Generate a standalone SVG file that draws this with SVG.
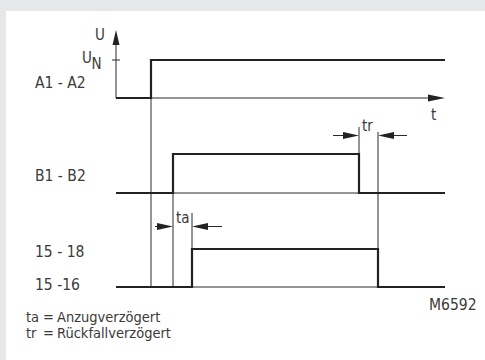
<svg xmlns="http://www.w3.org/2000/svg" width="485" height="360" viewBox="0 0 485 360">
<defs>
<style>
text{font-family:"DejaVu Sans Condensed","Liberation Sans Narrow","Liberation Sans",sans-serif;font-size:15.5px;fill:#3a3a3a}
.sm{font-size:15px}
.lg{font-size:14.5px}
.thin{stroke:#2a2a2a;stroke-width:1;fill:none}
.thick{stroke:#222;stroke-width:2.2;fill:none;stroke-linejoin:miter}
.ah{fill:#222;stroke:none}
</style>
</defs>
<rect x="0" y="0" width="485" height="360" fill="#e6e7e9"/>
<rect x="6" y="11" width="479" height="349" fill="#ffffff"/>
<g id="labels">
<g id="label-a1a2"><text x="35" y="88">A1 - A2</text></g>
<g id="label-b1b2"><text x="35" y="181">B1 - B2</text></g>
<g id="label-1518"><text x="35" y="257">15 - 18</text></g>
<g id="label-1516"><text x="35" y="290">15 -16</text></g>
<g id="label-u"><text class="sm" x="95" y="40">U</text></g>
<g id="label-un"><text class="sm" x="82" y="63">U</text><text class="sm" x="91.5" y="69">N</text></g>
<g id="label-t"><text class="sm" x="431" y="120">t</text></g>
<g id="label-tr"><text class="sm" x="362" y="131">tr</text></g>
<g id="label-ta"><text class="sm" x="176" y="223">ta</text></g>
<g id="label-m"><text x="429" y="310">M6592</text></g>
<g id="legend">
<text class="lg" x="26" y="322">ta<tspan x="43">=</tspan><tspan x="57">Anzugverzögert</tspan></text>
<text class="lg" x="26" y="338">tr<tspan x="43">=</tspan><tspan x="57">Rückfallverzögert</tspan></text>
</g>
</g>
<g id="connectors">
<line class="thin" x1="116" y1="40" x2="116" y2="98"/>
<polygon class="ah" points="116,30 112.5,45 119.5,45"/>
<line class="thin" x1="112" y1="60" x2="120" y2="60"/>
<line class="thin" x1="116" y1="98" x2="432" y2="98"/>
<polygon class="ah" points="445,98 428,94.5 428,101.5"/>
<line class="thin" x1="151" y1="98" x2="151" y2="287"/>
<line class="thin" x1="116" y1="193" x2="445" y2="193"/>
<line class="thin" x1="173" y1="193" x2="173" y2="287"/>
<line class="thin" x1="192" y1="213" x2="192" y2="249"/>
<line class="thin" x1="359" y1="127" x2="359" y2="154"/>
<line class="thin" x1="378" y1="132" x2="378" y2="249"/>
<line class="thin" x1="116" y1="287" x2="445" y2="287"/>
<line class="thin" x1="333" y1="135.5" x2="350" y2="135.5"/>
<polygon class="ah" points="359,135.5 343,132 343,139"/>
<line class="thin" x1="390" y1="135.5" x2="407" y2="135.5"/>
<polygon class="ah" points="378,135.5 394,132 394,139"/>
<line class="thin" x1="155" y1="226.5" x2="164" y2="226.5"/>
<polygon class="ah" points="173,226.5 157,223 157,230"/>
<line class="thin" x1="204" y1="226.5" x2="222" y2="226.5"/>
<polygon class="ah" points="192,226.5 208,223 208,230"/>
</g>
<g id="signal-a1a2"><polyline class="thick" points="116,98 151,98 151,60 445,60"/></g>
<g id="signal-b1b2"><polyline class="thick" points="116,193 173,193 173,154 359,154 359,193 445,193"/></g>
<g id="signal-15"><polyline class="thick" points="116,287 192,287 192,249 378,249 378,287 445,287"/></g>
</svg>
